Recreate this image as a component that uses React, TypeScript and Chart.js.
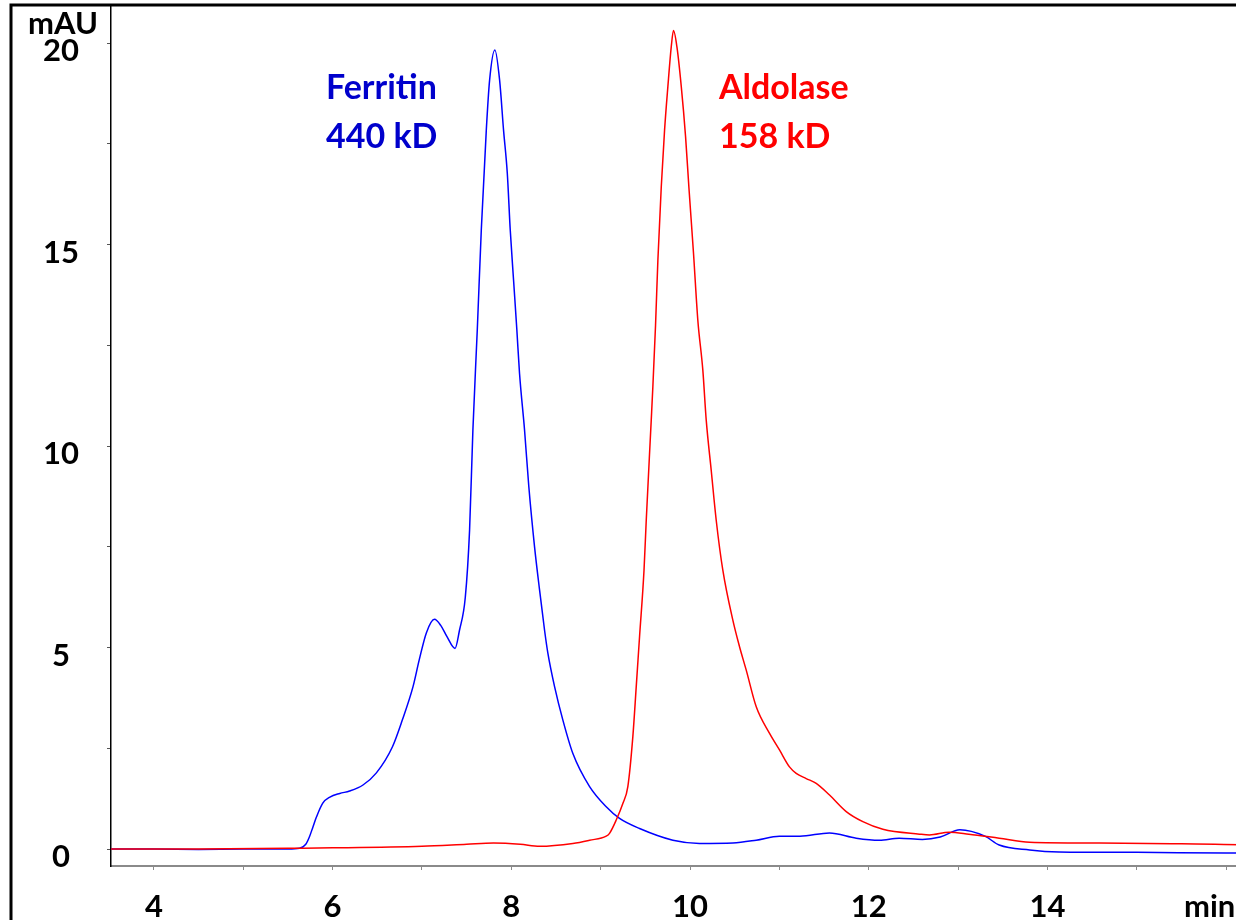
import React, { useEffect, useRef } from "react";
import { Chart, registerables } from "chart.js";

Chart.register(...registerables);

// ---- Data ----
const X_TICKS = [4, 5, 6, 7, 8, 9, 10, 11, 12, 13, 14, 15, 16];
const Y_TICKS = [0, 2.5, 5, 7.5, 10, 12.5, 15, 17.5, 20];
const X_MIN = 3.52;
const X_MAX = 17.05;
const Y_MIN = -0.42;
const Y_MAX = 20.92;

const FERRITIN_TIME = [
  3.52, 4.0, 4.5, 5.0, 5.5, 5.63, 5.7, 5.74, 5.78, 5.82, 5.89, 5.97, 6.08, 6.19, 6.34, 6.49, 6.67, 6.78,
  6.9, 6.97, 7.05, 7.14, 7.21, 7.28, 7.37, 7.42, 7.485, 7.533, 7.57, 7.619, 7.664, 7.72, 7.757, 7.816,
  7.869, 7.913, 7.955, 7.988, 8.025, 8.062, 8.092, 8.148, 8.196, 8.26, 8.316, 8.372, 8.409, 8.484, 8.577,
  8.689, 8.876, 9.062, 9.211, 9.435, 9.808, 10.106, 10.48, 10.74, 11.0, 11.23, 11.56, 11.86, 12.12, 12.34,
  12.6, 12.8, 13.02, 13.3, 13.46, 13.8, 14.13, 15.0, 16.0, 17.05,
];
const FERRITIN_MAU = [
  0.0, 0.0, -0.01, 0.0, 0.0, 0.02, 0.12, 0.3, 0.55, 0.8, 1.14, 1.29, 1.38, 1.44, 1.59, 1.89, 2.54, 3.2,
  4.03, 4.7, 5.37, 5.7, 5.55, 5.27, 4.98, 5.43, 6.25, 7.92, 10.4, 12.88, 15.36, 17.84, 19.08, 19.83,
  19.08, 17.84, 16.77, 15.36, 14.12, 12.88, 11.8, 10.4, 8.99, 7.5, 6.43, 5.43, 4.86, 4.03, 3.2,
  2.37, 1.55, 1.05, 0.76, 0.51, 0.22, 0.14, 0.15, 0.22, 0.32, 0.32, 0.4, 0.27, 0.22, 0.27,
  0.24, 0.3, 0.48, 0.32, 0.1, -0.02, -0.07, -0.08, -0.1, -0.1,
];

const ALDOLASE_TIME = [
  3.52, 4.5, 5.5, 6.0, 7.0, 7.5, 7.8, 8.1, 8.316, 8.689, 8.876, 9.062, 9.099, 9.174, 9.248, 9.304, 9.36,
  9.398, 9.435, 9.485, 9.51, 9.566, 9.584, 9.614, 9.64, 9.678, 9.715, 9.752, 9.79, 9.815, 9.853, 9.902,
  9.95, 9.987, 10.039, 10.087, 10.143, 10.181, 10.237, 10.293, 10.367, 10.479, 10.554, 10.629, 10.741,
  10.89, 11.001, 11.113, 11.188, 11.3, 11.412, 11.561, 11.748, 11.934, 12.158, 12.568, 12.68, 12.9, 13.12,
  13.46, 13.8, 14.58, 15.5, 16.5, 17.05,
];
const ALDOLASE_MAU = [
  0.0, 0.0, 0.02, 0.03, 0.07, 0.12, 0.15, 0.12, 0.07, 0.14, 0.22, 0.32, 0.39, 0.72, 1.13, 1.55, 2.79,
  4.03, 5.27, 6.92, 8.16, 10.65, 11.47, 13.0, 14.6, 16.43, 17.84, 18.92, 19.91, 20.31, 19.91, 18.92,
  17.68, 16.43, 14.78, 13.13, 11.89, 10.65, 9.4, 8.16, 6.92, 5.68, 5.02, 4.44, 3.53,
  2.87, 2.46, 2.04, 1.88, 1.75, 1.63, 1.34, 0.93, 0.68, 0.49, 0.37, 0.35, 0.42, 0.37,
  0.27, 0.17, 0.15, 0.13, 0.1, 0.1,
];

const CANVAS_W = 1320;
const CANVAS_H = 960;
const FONT = "Lato";

const overlayPlugin = {
  id: "overlay",
  afterDraw(chart: any) {
    const ctx = chart.ctx;
    ctx.save();
    // outer frame (left and top)
    ctx.strokeStyle = "#000";
    ctx.lineWidth = 3;
    ctx.beginPath();
    ctx.moveTo(11, CANVAS_H);
    ctx.lineTo(11, 5);
    ctx.lineTo(CANVAS_W, 5);
    ctx.stroke();

    ctx.textAlign = "left";
    ctx.textBaseline = "alphabetic";
    ctx.fillStyle = "#000";
    ctx.font = `bold 31px ${FONT}`;
    ctx.fillText("mAU", 28, 34);
    ctx.font = `bold 31px ${FONT}`;
    ctx.fillText("min", 1184, 917);

    ctx.font = `bold 34px ${FONT}`;
    ctx.fillStyle = "#0000CC";
    ctx.fillText("Ferritin", 326, 99);
    ctx.fillText("440 kD", 326, 148);
    ctx.fillStyle = "#FF0000";
    ctx.fillText("Aldolase", 719, 99);
    ctx.fillText("158 kD", 719, 148);
    ctx.restore();
  },
};

export default function App() {
  const ref = useRef<HTMLCanvasElement>(null);

  useEffect(() => {
    if (!ref.current) return;
    const ferritin = FERRITIN_TIME.map((t, i) => ({ x: t, y: FERRITIN_MAU[i] }));
    const aldolase = ALDOLASE_TIME.map((t, i) => ({ x: t, y: ALDOLASE_MAU[i] }));
    const chart = new Chart(ref.current, {
      type: "line",
      data: {
        datasets: [
          {
            label: "Aldolase 158 kD",
            data: aldolase,
            borderColor: "#FF0000",
            borderWidth: 1.5,
            pointRadius: 0,
            cubicInterpolationMode: "monotone",
          },
          {
            label: "Ferritin 440 kD",
            data: ferritin,
            borderColor: "#0000FF",
            borderWidth: 1.5,
            pointRadius: 0,
            cubicInterpolationMode: "monotone",
          },
        ],
      },
      options: {
        responsive: false,
        animation: false,
        devicePixelRatio: 1,
        layout: { padding: { top: 6, left: 0, right: 0, bottom: 0 } },
        plugins: { legend: { display: false }, tooltip: { enabled: false } },
        scales: {
          x: {
            type: "linear",
            min: X_MIN,
            max: X_MAX,
            afterBuildTicks: (s: any) => {
              s.ticks = X_TICKS.map((v) => ({ value: v }));
            },
            afterFit: (s: any) => {
              s.height = CANVAS_H - 866;
              s.paddingLeft = 0;
              s.paddingRight = 0;
            },
            ticks: {
              autoSkip: false,
              maxRotation: 0,
              padding: 18,
              color: "#000",
              font: { family: FONT, weight: "bold", size: 31 },
              callback: (v: any) => (v % 2 === 0 && v !== 16 ? String(v) : ""),
            },
            grid: { drawOnChartArea: false, drawTicks: true, tickLength: 4, color: "#8a8a8a", lineWidth: 1 },
            border: { display: true, color: "#8a8a8a", width: 2 },
          },
          y: {
            type: "linear",
            min: Y_MIN,
            max: Y_MAX,
            afterBuildTicks: (s: any) => {
              s.ticks = Y_TICKS.map((v) => ({ value: v }));
            },
            afterFit: (s: any) => {
              s.width = 111;
              s.paddingTop = 0;
              s.paddingBottom = 0;
            },
            ticks: {
              autoSkip: false,
              padding: 28,
              labelOffset: 8,
              crossAlign: "center",
              color: "#000",
              font: { family: FONT, weight: "bold", size: 31 },
              callback: (v: any) => (v % 5 === 0 ? String(v) : ""),
            },
            grid: { drawOnChartArea: false, drawTicks: true, tickLength: 4, color: "#555", lineWidth: 1 },
            border: { display: true, color: "#000", width: 1.5 },
          },
        },
      },
      plugins: [overlayPlugin],
    });
    return () => chart.destroy();
  }, []);

  return (
    <div
      style={{
        position: "fixed",
        left: 0,
        top: 0,
        width: 1236,
        height: 920,
        overflow: "hidden",
        background: "#fff",
      }}
    >
      <canvas ref={ref} width={CANVAS_W} height={CANVAS_H} style={{ width: CANVAS_W, height: CANVAS_H, display: "block" }} />
    </div>
  );
}
